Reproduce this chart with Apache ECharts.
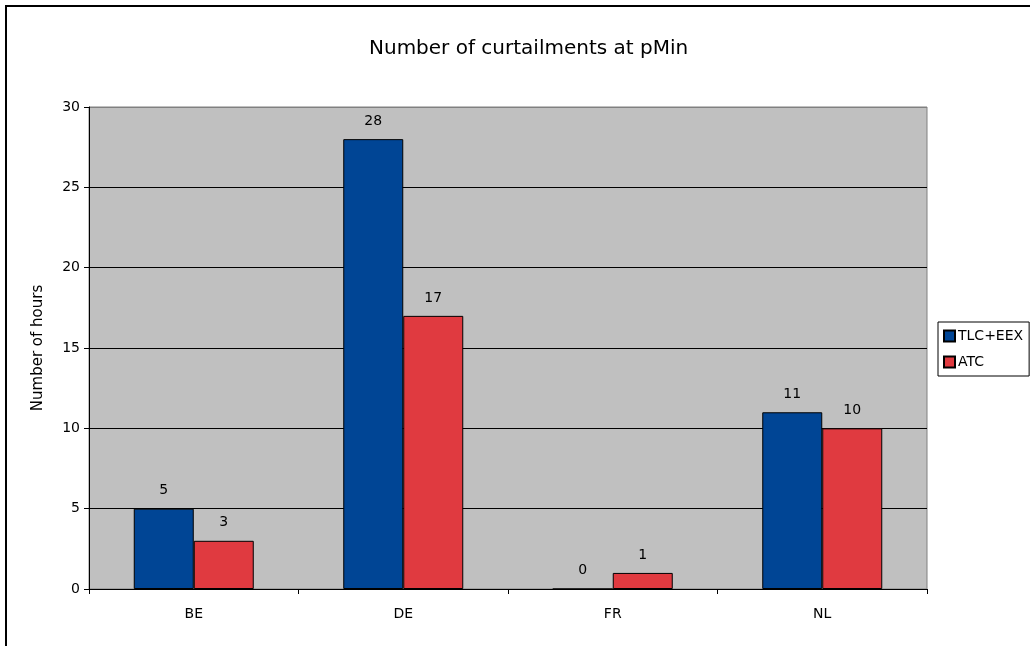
<!DOCTYPE html>
<html>
<head>
<meta charset="utf-8">
<script src="https://cdn.jsdelivr.net/npm/echarts@6/dist/echarts.min.js"></script>
<style>
html,body{margin:0;padding:0;background:#fff;}
#chart{width:1030px;height:646px;}
</style>
</head>
<body>
<div id="chart"></div>
<script>
const categories = ['BE', 'DE', 'FR', 'NL'];
const seriesNames = ['TLC+EEX', 'ATC'];
const tlcEex = [5, 28, 0, 11];
const atc = [3, 17, 1, 10];
const titleText = 'Number of curtailments at pMin';
const yAxisName = 'Number of hours';

const FONT = 'DejaVu Sans';
const chart = echarts.init(document.getElementById('chart'), null, {renderer: 'canvas'});

function barSeries(name, data, color) {
  return {
    name: name,
    type: 'bar',
    data: data,
    barWidth: 60,
    barGap: '0%',
    itemStyle: {color: color, borderColor: '#000', borderWidth: 1},
    label: {
      show: true, position: 'top', distance: 11,
      color: '#000', fontFamily: FONT, fontSize: 14
    },
    emphasis: {disabled: true},
    animation: false
  };
}

chart.setOption({
  animation: false,
  backgroundColor: '#fff',
  title: {
    text: titleText,
    left: 364,
    top: 34,
    textStyle: {fontFamily: FONT, fontSize: 20, fontWeight: 'normal', color: '#000'}
  },
  graphic: [{
    type: 'rect',
    shape: {x: 6, y: 6, width: 1040, height: 660},
    style: {fill: 'none', stroke: '#000', lineWidth: 2},
    z: 100
  }],
  grid: {
    left: 89, right: 103, top: 107, bottom: 57,
    show: true, backgroundColor: '#C0C0C0', borderColor: '#808080', borderWidth: 1
  },
  legend: {
    data: seriesNames,
    orient: 'vertical',
    left: 938, top: 322,
    width: 92,
    padding: [7, 6, 7, 5],
    itemWidth: 11, itemHeight: 11, itemGap: 12,
    borderColor: '#000', borderWidth: 1,
    backgroundColor: '#fff',
    icon: 'rect',
    selectedMode: false,
    textStyle: {fontFamily: FONT, fontSize: 14, color: '#000', padding: [0, 0, 0, -2]}
  },
  xAxis: {
    type: 'category',
    data: categories,
    axisLine: {lineStyle: {color: '#000', width: 1}},
    axisTick: {show: true, alignWithLabel: false, length: 5, lineStyle: {color: '#000'}},
    axisLabel: {fontFamily: FONT, fontSize: 14, color: '#000', margin: 18},
    splitLine: {show: false}
  },
  yAxis: {
    type: 'value',
    min: 0, max: 30, interval: 5,
    name: yAxisName,
    nameLocation: 'middle',
    nameGap: 43,
    nameTextStyle: {fontFamily: FONT, fontSize: 15, color: '#000'},
    axisLine: {show: true, lineStyle: {color: '#000', width: 1}},
    axisTick: {show: true, length: 5, lineStyle: {color: '#000'}},
    axisLabel: {fontFamily: FONT, fontSize: 14, color: '#000', margin: 9},
    splitLine: {show: true, lineStyle: {color: ['#000', '#000', '#000', '#000', '#000', '#000', '#808080'], width: 1}}
  },
  series: [
    barSeries(seriesNames[0], tlcEex, '#004595'),
    barSeries(seriesNames[1], atc, '#E03A40')
  ]
});
</script>
</body>
</html>
